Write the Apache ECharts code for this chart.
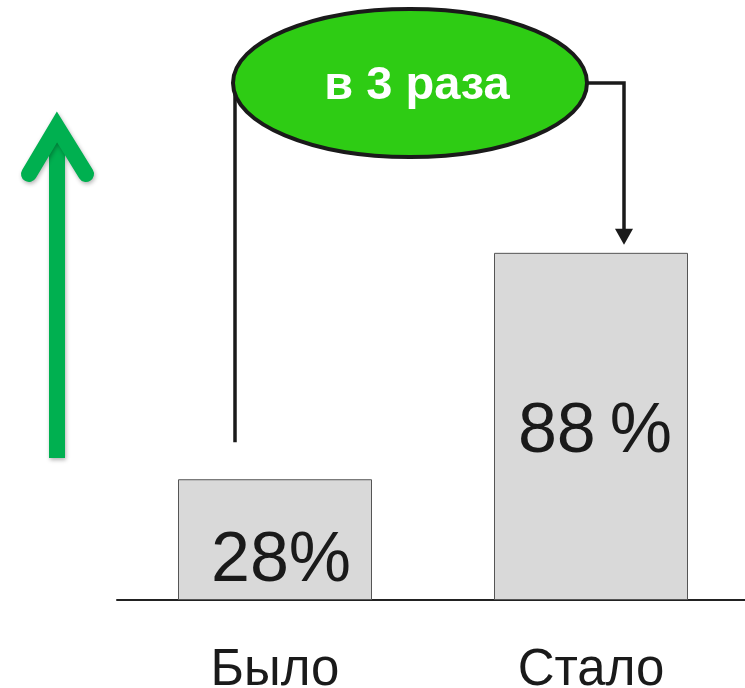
<!DOCTYPE html>
<html>
<head>
<meta charset="utf-8">
<script src="https://cdn.jsdelivr.net/npm/echarts@6/dist/echarts.min.js"></script>
<style>
  html, body { margin: 0; padding: 0; background: #fff; }
  #chart { width: 745px; height: 688px; }
</style>
</head>
<body>
<div id="chart"></div>
<script>
// data
const categories = ['Было', 'Стало']
const values = [28, 88]
const valueLabels = ['28%', '88\u2009%']
const badgeText = 'в 3 раза'

const FONT = '"Liberation Sans", Arial, sans-serif'
const chart = echarts.init(document.getElementById('chart'))

chart.setOption({
  backgroundColor: '#ffffff',
  animation: false,
  grid: { left: 117, right: -4, top: 0, bottom: 88, containLabel: false, outerBoundsMode: 'none' },
  xAxis: {
    type: 'category',
    data: categories,
    axisLine: { onZero: false, lineStyle: { color: '#222', width: 2 } },
    axisTick: { show: false },
    axisLabel: {
      fontFamily: FONT,
      fontSize: 51,
      color: '#1a1a1a',
      margin: 45
    }
  },
  yAxis: {
    type: 'value',
    min: -4,
    max: 155,
    startValue: -4, // bars grow from the axis line
    show: false,
    splitLine: { show: false }
  },
  series: [
    {
      type: 'bar',
      barWidth: 194,
      data: values.map((v, i) => ({
        value: v,
        label: { offset: i === 0 ? [6, 22] : [4, 6] }
      })),
      itemStyle: { color: '#d9d9d9', borderColor: '#555', borderWidth: 1 },
      label: {
        show: true,
        position: 'inside',
        fontFamily: FONT,
        fontSize: 70,
        color: '#1a1a1a',
        formatter: (p) => valueLabels[p.dataIndex]
      }
    }
  ]
})

// annotation: pixel anchors from the bars
const b1 = chart.convertToPixel({ gridIndex: 0 }, [categories[0], values[0]])
const b2 = chart.convertToPixel({ gridIndex: 0 }, [categories[1], values[1]])

const cx = 410, cy = 83, rx = 177, ry = 74
const leftX = b1[0] - 40
const rightX = b2[0] + 33
const lineColor = '#1a1a1a'
const green = '#00b050'
const shadow = { shadowBlur: 4, shadowOffsetX: 1, shadowOffsetY: 2, shadowColor: 'rgba(0,0,0,0.3)' }

chart.setOption({
  graphic: [
    // growth arrow
    {
      type: 'polyline',
      shape: { points: [[57, 458], [57, 140]] },
      style: Object.assign({ stroke: green, lineWidth: 16, lineCap: 'butt', fill: null }, shadow)
    },
    {
      type: 'polyline',
      shape: { points: [[29, 174], [57, 127], [86, 174]] },
      style: Object.assign({ stroke: green, lineWidth: 16, lineCap: 'round', lineJoin: 'miter', fill: null }, shadow)
    },
    // connectors
    {
      type: 'polyline',
      shape: { points: [[cx - rx + 2, cy], [leftX, cy], [leftX, b1[1] - 37]] },
      style: { stroke: lineColor, lineWidth: 3.5, fill: null }
    },
    {
      type: 'polyline',
      shape: { points: [[cx + rx - 2, cy], [rightX, cy], [rightX, b2[1] - 22]] },
      style: { stroke: lineColor, lineWidth: 3.5, fill: null }
    },
    {
      type: 'polygon',
      shape: { points: [[rightX - 9, b2[1] - 24], [rightX + 9, b2[1] - 24], [rightX, b2[1] - 8]] },
      style: { fill: lineColor }
    },
    // badge
    {
      type: 'ellipse',
      shape: { cx: cx, cy: cy, rx: rx, ry: ry },
      style: { fill: '#2ecc14', stroke: lineColor, lineWidth: 4 }
    },
    {
      type: 'text',
      x: 417,
      y: 86,
      style: {
        text: badgeText,
        fontFamily: FONT,
        fontWeight: 'bold',
        fontSize: 47,
        fill: '#ffffff',
        align: 'center',
        verticalAlign: 'middle'
      }
    }
  ]
})
</script>
</body>
</html>
